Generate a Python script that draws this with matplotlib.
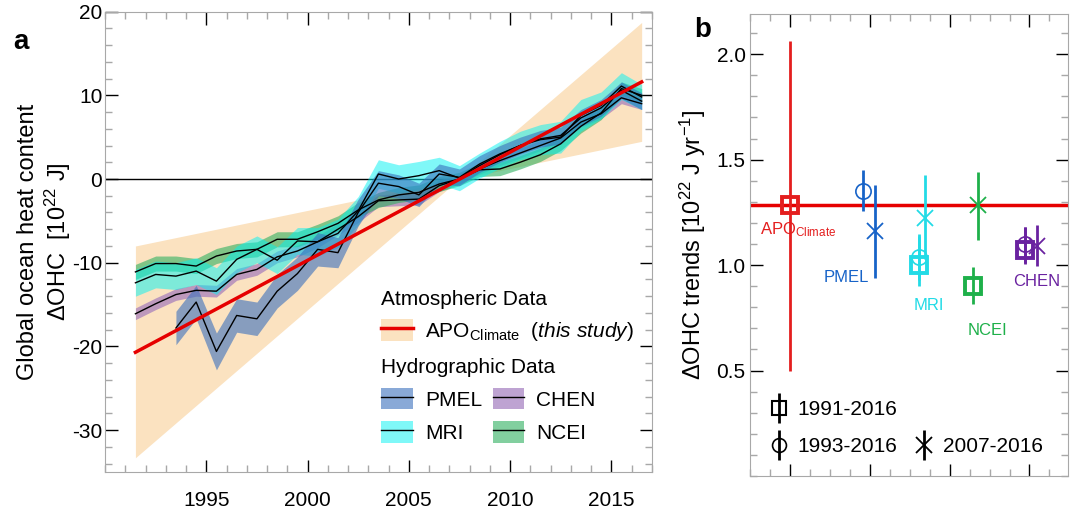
import numpy as np
import matplotlib
matplotlib.use('Agg')
import matplotlib.pyplot as plt
from matplotlib.patches import Patch
from matplotlib.lines import Line2D
from matplotlib.ticker import MultipleLocator, FormatStrFormatter

plt.rcParams['font.family'] = ['Liberation Sans', 'DejaVu Sans']
plt.rcParams['mathtext.fontset'] = 'custom'
plt.rcParams['mathtext.rm'] = 'Liberation Sans'
plt.rcParams['mathtext.it'] = 'Liberation Sans:italic'
plt.rcParams['mathtext.bf'] = 'Liberation Sans:bold'
plt.rcParams['axes.unicode_minus'] = False

# ---- panel a data (annual means, plotted at mid-year) ----
years = [1991, 1992, 1993, 1994, 1995, 1996, 1997, 1998, 1999, 2000, 2001, 2002, 2003,
         2004, 2005, 2006, 2007, 2008, 2009, 2010, 2011, 2012, 2013, 2014, 2015, 2016]

ncei = [-11.1, -10.1, -10.1, -10.4, -9.2, -8.6, -8.4, -7.2, -7.2, -6.3, -5.3, -3.7, -2.5,
        -1.9, -1.6, -0.6, 0.0, 1.1, 1.2, 2.0, 2.9, 4.2, 6.3, 7.9, 10.8, 10.0]
ncei_err = [0.9, 0.9, 0.9, 0.9, 0.9, 0.9, 0.9, 0.9, 0.9, 0.9, 0.9, 0.9, 0.9,
            0.9, 0.9, 0.9, 0.8, 0.8, 0.8, 0.8, 0.8, 0.8, 0.8, 0.8, 0.8, 0.8]

mri = [-12.4, -11.4, -11.6, -11.0, -12.2, -9.6, -8.4, -9.7, -7.4, -7.5, -6.5, -3.8, 0.6,
       0.0, 0.4, 1.0, 0.1, 1.6, 2.9, 4.0, 4.7, 5.0, 7.6, 8.8, 11.1, 9.8]
mri_err = [1.6, 1.6, 1.6, 1.6, 1.6, 1.6, 1.6, 1.6, 1.6, 1.7, 1.7, 1.7, 1.7,
           1.7, 1.7, 1.6, 1.5, 1.5, 1.6, 1.7, 1.8, 1.9, 1.9, 1.6, 1.6, 1.5]

chen = [-16.1, -14.9, -13.8, -13.3, -13.4, -11.4, -10.8, -9.3, -8.6, -7.5, -6.0, -4.5, -2.6,
        -2.5, -2.4, -0.8, 0.0, 1.2, 2.2, 3.1, 4.0, 4.9, 6.8, 7.8, 9.7, 9.0]
chen_err = [0.7, 0.7, 0.7, 0.7, 0.7, 0.7, 0.7, 0.7, 0.7, 0.7, 0.7, 0.7, 0.7,
            0.7, 0.7, 0.7, 0.6, 0.6, 0.6, 0.6, 0.6, 0.6, 0.6, 0.6, 0.7, 0.7]

# PMEL starts in 1993
pmel = [-17.8, -14.7, -20.6, -16.3, -16.7, -13.4, -11.3, -8.4, -8.8, -4.0, -0.5,
        -0.9, -1.9, 0.6, 0.2, 1.8, 3.0, 4.0, 4.8, 5.2, 7.3, 8.5, 10.6, 9.3]
pmel_err = [2.0, 2.0, 2.2, 2.0, 2.0, 2.0, 2.0, 2.0, 1.8, 1.6, 1.5,
            1.4, 1.4, 1.2, 1.0, 1.0, 1.0, 1.0, 1.0, 1.0, 1.0, 1.0, 1.0, 1.0]

# APO_Climate trend line and its uncertainty wedge
apo_years = [1991.5, 2016.5]
apo_line = [-20.7, 11.6]
wedge_years = [1991.5, 2007.5, 2016.5]
wedge_lo = [-33.3, 0.0, 4.5]
wedge_hi = [-8.0, 0.0, 18.7]

# ---- panel b data (trends, 10^22 J/yr) ----
apo_trend = 1.285
b_x = [1.0, 1.91, 2.06, 2.61, 2.61, 2.69, 3.29, 3.35, 3.95, 3.95, 4.09]
b_val = [1.285, 1.35, 1.16, 1.00, 1.04, 1.225, 0.90, 1.285, 1.07, 1.10, 1.09]
b_lo = [0.50, 1.255, 0.94, 0.90, 0.93, 1.03, 0.815, 1.12, 1.005, 1.01, 0.995]
b_hi = [2.06, 1.45, 1.38, 1.145, 1.14, 1.425, 0.99, 1.44, 1.18, 1.18, 1.19]
b_period = ['s', 'o', 'x', 's', 'o', 'x', 's', 'x', 's', 'o', 'x']
b_set = ['APO', 'PMEL', 'PMEL', 'MRI', 'MRI', 'MRI', 'NCEI', 'NCEI', 'CHEN', 'CHEN', 'CHEN']

band_col = {'PMEL': '#3a70bd', 'MRI': '#00f2f2', 'CHEN': '#9c72bb', 'NCEI': '#2fb060'}
band_alpha = {'PMEL': 0.6, 'MRI': 0.5, 'CHEN': 0.65, 'NCEI': 0.6}
pt_col = {'APO': '#e41e1e', 'PMEL': '#1763c8', 'MRI': '#22dbe6', 'NCEI': '#1eb04a', 'CHEN': '#6a22a0'}
red = '#e60000'
wedge_col = '#fbe2c0'
grey = '#a8a8a8'

mid = np.array(years) + 0.5

fig = plt.figure(figsize=(10.72, 5.15), dpi=100)
axa = fig.add_axes([0.098, 0.0835, 0.51, 0.894])
axb = fig.add_axes([0.700, 0.0757, 0.296, 0.897])

# ---------------- panel a ----------------
axa.fill_between(wedge_years, wedge_lo, wedge_hi, color=wedge_col, lw=0, zorder=1)
axa.axhline(0, color='k', lw=1, zorder=1.5)

series = [('CHEN', mid, chen, chen_err),
          ('NCEI', mid, ncei, ncei_err),
          ('MRI', mid, mri, mri_err),
          ('PMEL', mid[2:], pmel, pmel_err)]
for name, x, v, e in series:
    v = np.array(v)
    e = np.array(e)
    axa.fill_between(x, v - e, v + e, color=band_col[name], alpha=band_alpha[name], lw=0, zorder=2)
for name, x, v, e in series:
    axa.plot(x, v, color='k', lw=1, zorder=3)
axa.plot(apo_years, apo_line, color=red, lw=2.5, zorder=4)

axa.set_xlim(1990, 2017)
axa.set_ylim(-35, 20)
axa.set_xticks([1995, 2000, 2005, 2010, 2015])
axa.xaxis.set_minor_locator(MultipleLocator(1))
axa.yaxis.set_major_locator(MultipleLocator(10))
axa.yaxis.set_minor_locator(MultipleLocator(2))
axa.set_ylabel('Global ocean heat content\n$\\Delta$OHC  [10$^{22}$ J]', fontsize=17, labelpad=-1)

h_apo = (Patch(fc=wedge_col, lw=0), Line2D([], [], color=red, lw=2.5))
leg1 = axa.legend([h_apo], ['APO$_{\\mathrm{Climate}}$  $\\mathit{(this\\ study)}$'],
                  title='Atmospheric Data', loc='lower left', bbox_to_anchor=(0.49, 0.262),
                  frameon=False, fontsize=15, title_fontsize=15, handlelength=1.5,
                  handleheight=1.2, handletextpad=0.6, borderaxespad=0)
leg1._legend_box.align = 'left'
axa.add_artist(leg1)

hyd = []
for name in ['PMEL', 'MRI', 'CHEN', 'NCEI']:
    hyd.append((Patch(fc=band_col[name], alpha=band_alpha[name], lw=0),
                Line2D([], [], color='k', lw=1)))
leg2 = axa.legend(hyd, ['PMEL', 'MRI', 'CHEN', 'NCEI'], ncol=2, title='Hydrographic Data',
                  loc='lower left', bbox_to_anchor=(0.49, 0.045), frameon=False, fontsize=15,
                  title_fontsize=15, handlelength=1.5, handleheight=1.2, handletextpad=0.6,
                  columnspacing=0.5, labelspacing=0.55, borderaxespad=0)
leg2._legend_box.align = 'left'

# ---------------- panel b ----------------
axb.axhline(apo_trend, color=red, lw=2.5, zorder=1)
for x, v, lo, hi, m, s in zip(b_x, b_val, b_lo, b_hi, b_period, b_set):
    c = pt_col[s]
    if m == 's':
        ms, mew = 11, 2.8
    elif m == 'o':
        ms, mew = 11, 1.2
    else:
        ms, mew = 12, 1.3
    axb.errorbar(x, v, yerr=[[v - lo], [hi - v]], fmt=m, color=c, mfc='none', mec=c,
                 ms=ms, mew=mew, elinewidth=2, capsize=0, zorder=3)

axb.text(0.625, 1.17, 'APO$_{\\mathrm{Climate}}$', color=pt_col['APO'], fontsize=12, va='center')
axb.text(1.70, 0.943, 'PMEL', color=pt_col['PMEL'], fontsize=12, ha='center', va='center')
axb.text(2.74, 0.806, 'MRI', color=pt_col['MRI'], fontsize=12, ha='center', va='center')
axb.text(3.47, 0.69, 'NCEI', color=pt_col['NCEI'], fontsize=12, ha='center', va='center')
axb.text(4.09, 0.92, 'CHEN', color=pt_col['CHEN'], fontsize=12, ha='center', va='center')

axb.set_xlim(0.5, 4.48)
axb.set_ylim(0.0, 2.19)
axb.xaxis.set_major_locator(MultipleLocator(1))
axb.xaxis.set_minor_locator(MultipleLocator(0.25))
axb.set_yticks([0.5, 1.0, 1.5, 2.0])
axb.yaxis.set_minor_locator(MultipleLocator(0.1))
axb.set_xticklabels([])
axb.yaxis.set_major_formatter(FormatStrFormatter('%.1f'))
axb.set_ylabel('$\\Delta$OHC trends [10$^{22}$ J yr$^{-1}$]', fontsize=17, labelpad=6)


def bar_handle(m, ms, mew):
    return (Line2D([], [], marker=m, ls='none', mfc='none', mec='k', ms=ms, mew=mew),
            Line2D([], [], marker='|', ls='none', mec='k', ms=22, mew=2))


lh = [bar_handle('s', 10, 1.5), bar_handle('o', 10, 1.2),
      Line2D([], [], ls='none'), bar_handle('x', 11, 1.3)]
leg3 = axb.legend(lh, ['1991-2016', '1993-2016', '', '2007-2016'], ncol=2, loc='lower left',
                  bbox_to_anchor=(0.03, 0.025), frameon=False, fontsize=15, handlelength=1.0,
                  handletextpad=0.4, columnspacing=0.8, labelspacing=0.85, borderaxespad=0)

# ---------------- ticks / spines ----------------
for ax in (axa, axb):
    for sp in ax.spines.values():
        sp.set_color(grey)
    ax.tick_params(which='both', direction='in', top=True, right=True, labelsize=15)
    ax.tick_params(which='major', length=9, width=1, color='k')
    ax.tick_params(which='minor', length=5, width=1, color=grey)
    for t in ax.xaxis.get_major_ticks() + ax.yaxis.get_major_ticks():
        t.tick2line.set_color(grey)
for t in axb.yaxis.get_major_ticks():
    t.tick1line.set_color(grey)
axa.tick_params(axis='x', pad=14)
axa.tick_params(axis='y', pad=2)

fig.text(0.012, 0.905, 'a', fontsize=20, fontweight='bold')
fig.text(0.648, 0.928, 'b', fontsize=20, fontweight='bold')

fig.savefig('out.png', dpi=100)
